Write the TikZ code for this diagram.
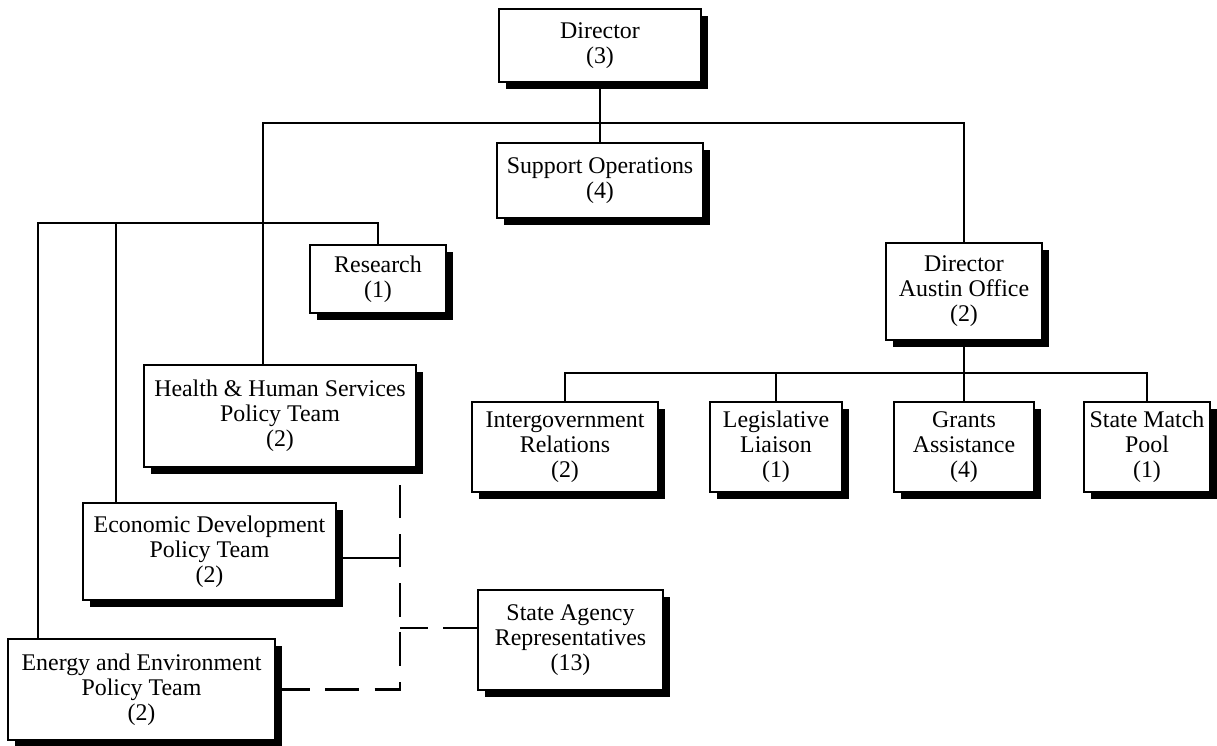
\documentclass[tikz,border=0pt]{standalone}
\usepackage{fontspec}
\setmainfont{Liberation Serif}
\usetikzlibrary{shadows}
\begin{document}
\begin{tikzpicture}[x=0.02cm,y=-0.02cm]
		\tikzstyle{mybox}=[draw,fill=white,line width=1.3pt,align=center,inner sep=1pt,
			font=\fontsize{13.6}{14.2}\selectfont,
			drop shadow={shadow xshift=3.8pt,shadow yshift=-4pt,fill=black,opacity=1}]
		\tikzstyle{myline}=[line width=1.3pt]
		\tikzstyle{mydash}=[line width=1.3pt,dash pattern=on 19pt off 9pt]

		\useasboundingbox (0,0) rectangle (1217,745);

		% top level
		\node[mybox,minimum width=4.04cm,minimum height=1.46cm] (dir) at (600,45.5) {Director\\(3)};
		\node[mybox,minimum width=4.12cm,minimum height=1.5cm] (sup) at (600,180.5) {Support Operations\\(4)};
		\node[mybox,minimum width=3.12cm,minimum height=1.94cm] (dao) at (964,291.5) {Director\\Austin Office\\(2)};

		% policy side
		\node[mybox,minimum width=2.72cm,minimum height=1.36cm] (res) at (378,279) {Research\\(1)};
		\node[mybox,minimum width=5.44cm,minimum height=2.04cm] (hhs) at (280,416) {Health \& Human Services\\Policy Team\\(2)};
		\node[mybox,minimum width=5.06cm,minimum height=1.94cm] (eco) at (209.5,551.5) {Economic Development\\Policy Team\\(2)};
		\node[mybox,minimum width=5.34cm,minimum height=2.02cm] (ene) at (141.5,689.5) {Energy and Environment\\Policy Team\\(2)};
		\node[mybox,minimum width=3.7cm,minimum height=2cm] (sar) at (570.5,640) {State Agency\\Representatives\\(13)};

		% austin office
		\node[mybox,minimum width=3.72cm,minimum height=1.8cm] (igr) at (565,447) {Intergovernment\\Relations\\(2)};
		\node[mybox,minimum width=2.64cm,minimum height=1.8cm] (leg) at (776,447) {Legislative\\Liaison\\(1)};
		\node[mybox,minimum width=2.8cm,minimum height=1.8cm] (gra) at (964,447) {Grants\\Assistance\\(4)};
		\node[mybox,minimum width=2.52cm,minimum height=1.8cm] (smp) at (1147,447) {State Match\\Pool\\(1)};

		\coordinate (tl) at (263,123);
		\coordinate (tr) at (964,123);
		\coordinate (la) at (38,223);
		\coordinate (lb) at (116,223);
		\coordinate (ab) at (964,373);
		\coordinate (dv) at (400,558);
		\coordinate (dw) at (400,628);

		\draw[myline] (dir) -- (sup);
		\draw[myline] (tl |- hhs.north) -- (tl) -- (tr) -- (dao);
		\draw[myline] (la |- ene.north) -- (la) -- (res.north |- la) -- (res.north);
		\draw[myline] (lb) -- (lb |- eco.north);

		\draw[myline] (dao) -- (gra);
		\draw[myline] (igr.north) -- (igr.north |- ab) -- (smp.north |- ab) -- (smp.north);
		\draw[myline] (leg.north) -- (leg.north |- ab);

		\draw[myline] (dv -| eco.east) -- (dv);
		\draw[mydash] (ene.east) -- (dv |- ene.east) -- (dv |- hhs.south);
		\draw[mydash] (dw -| sar.west) -- (dw);
\end{tikzpicture}
\end{document}
